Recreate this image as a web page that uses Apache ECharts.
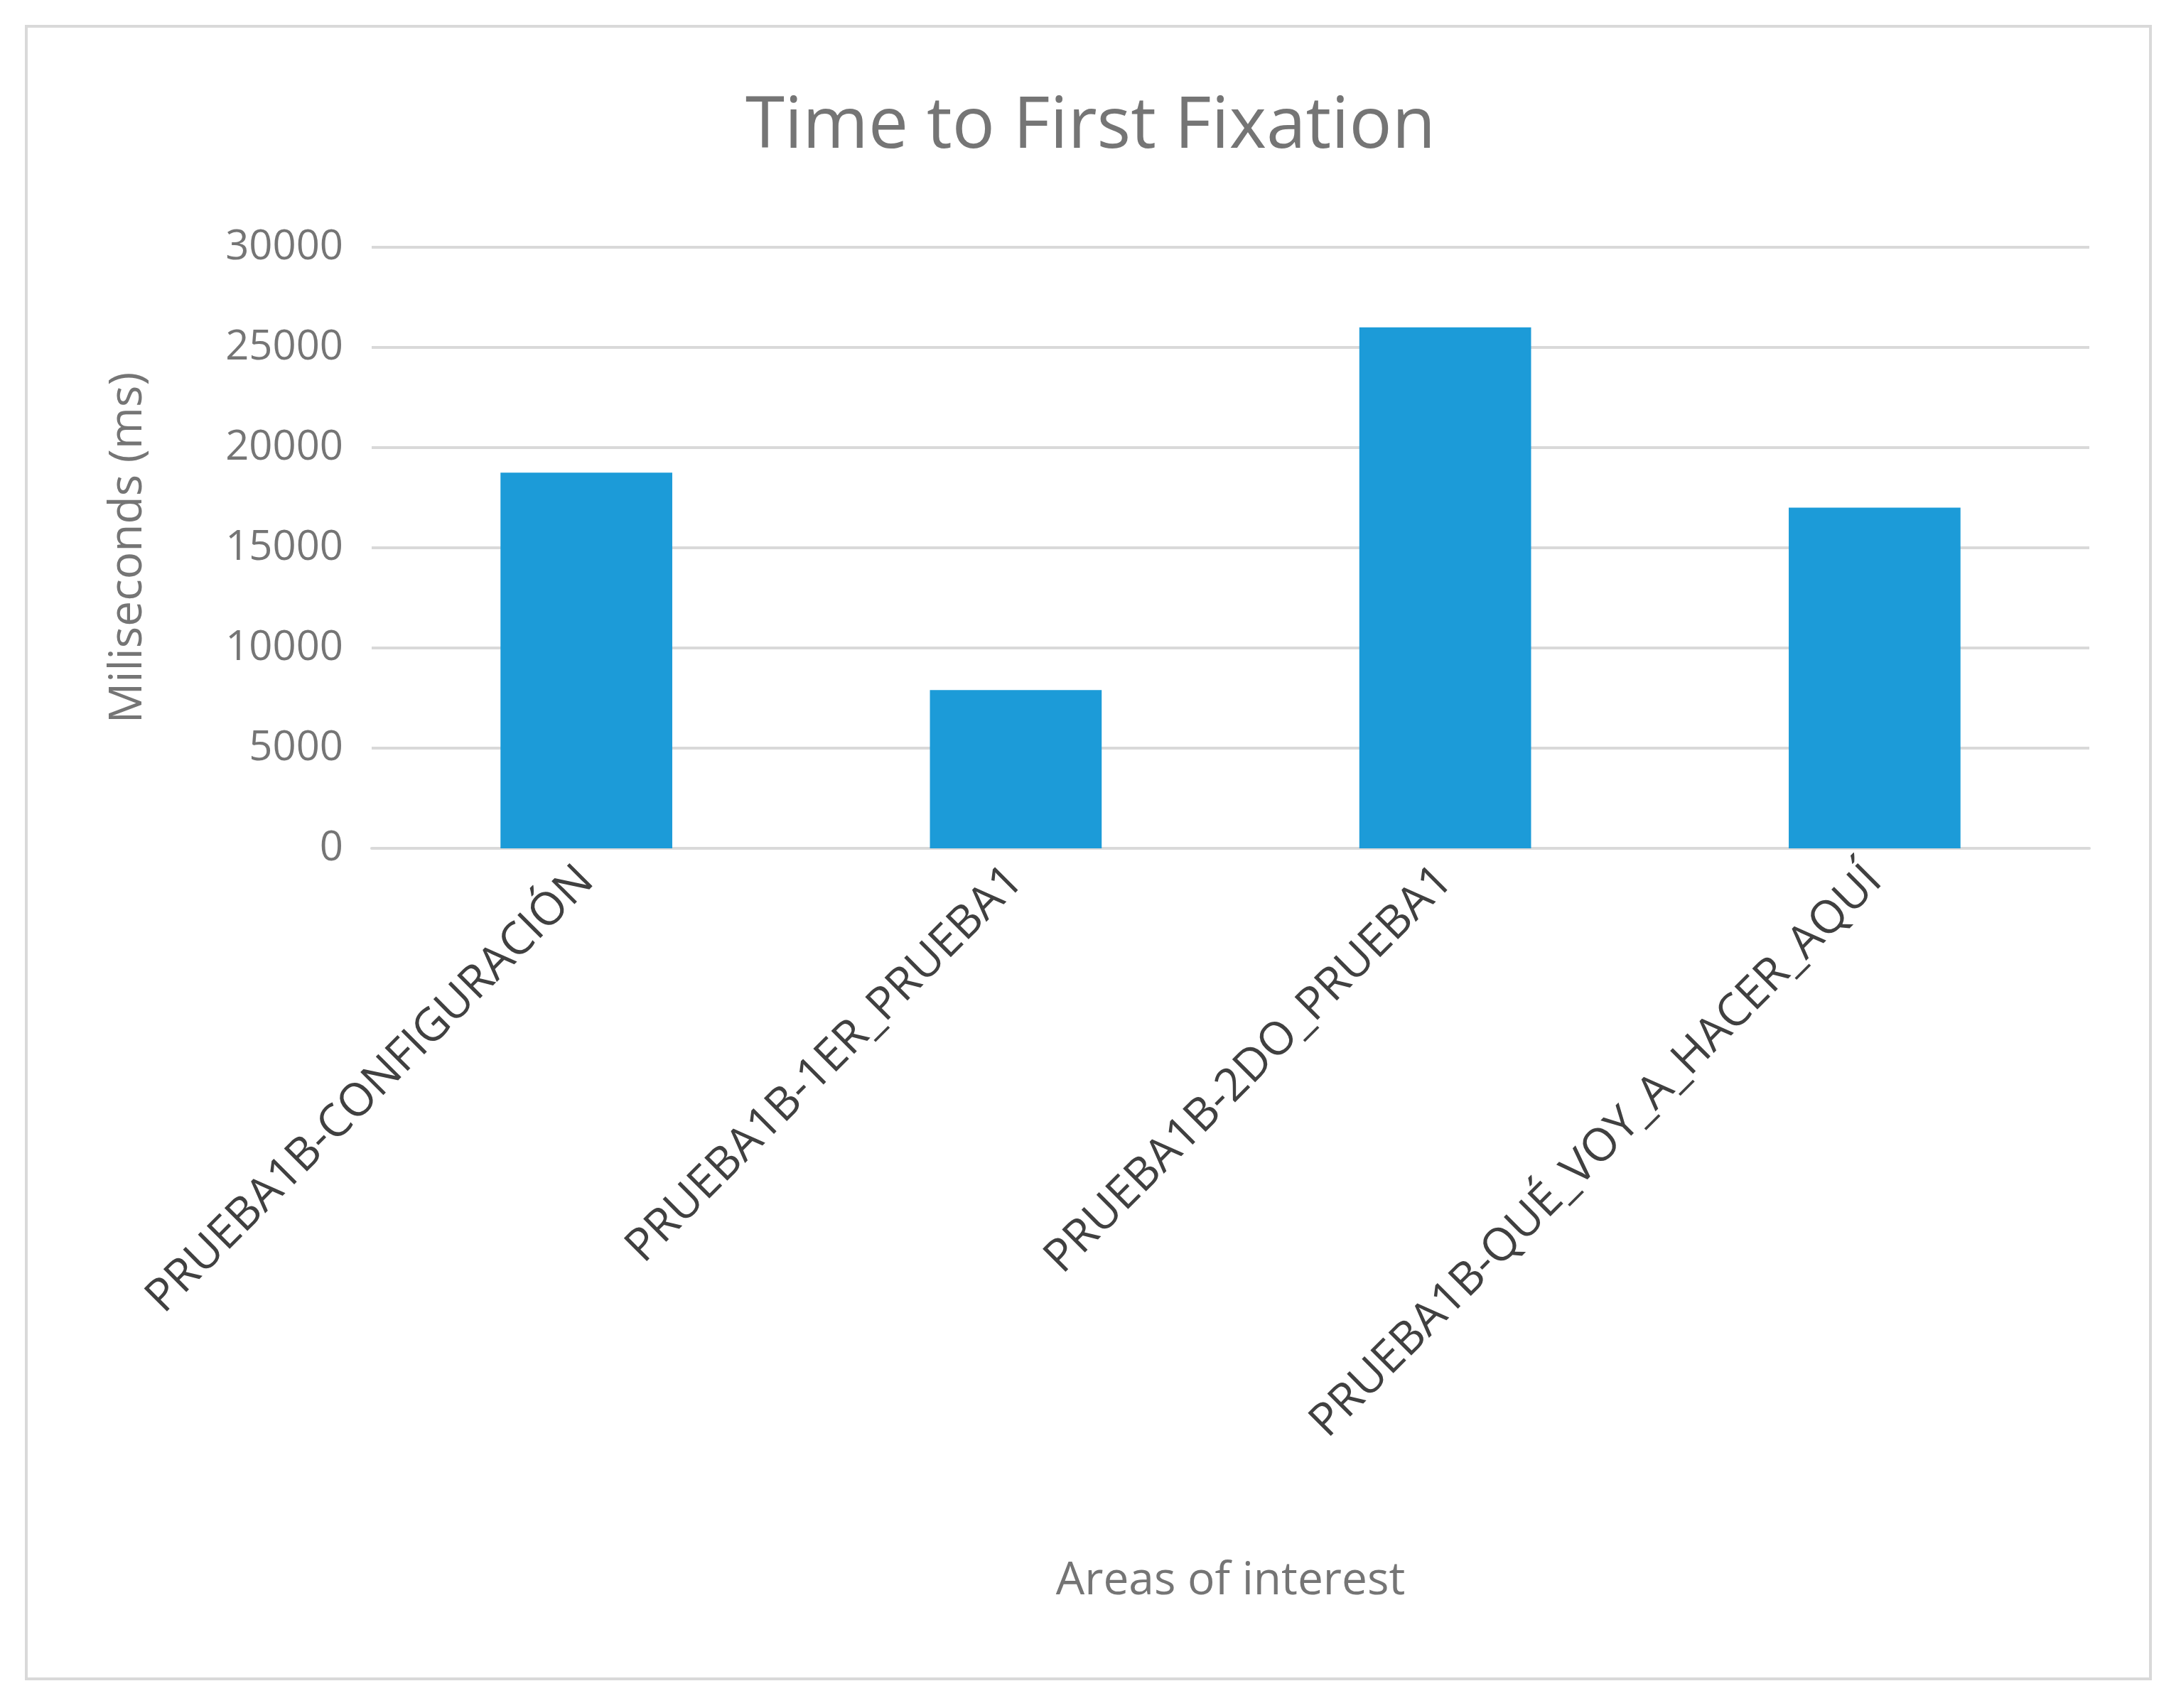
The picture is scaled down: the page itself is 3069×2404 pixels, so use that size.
<!DOCTYPE html>
<html>
<head>
<meta charset="utf-8">
<script src="https://cdn.jsdelivr.net/npm/echarts@6/dist/echarts.min.js"></script>
<style>
  html, body { margin: 0; padding: 0; background: #fff; }
  #wrap { position: absolute; left: 35px; top: 35px; width: 2993px; height: 2330px; border: 4px solid #d9d9d9; box-sizing: border-box; }
  #chart { position: absolute; left: 0; top: 0; width: 3069px; height: 2404px; }
</style>
</head>
<body>
<div id="wrap"></div>
<div id="chart"></div>
<script>
  var categories = ['PRUEBA1B-CONFIGURACIÓN', 'PRUEBA1B-1ER_PRUEBA1', 'PRUEBA1B-2DO_PRUEBA1', 'PRUEBA1B-QUÉ_VOY_A_HACER_AQUÍ'];
  var values = [18750, 7900, 26000, 17000];

  var chart = echarts.init(document.getElementById('chart'));
  chart.setOption({
    animation: false,
    textStyle: { fontFamily: 'Open Sans' },
    title: {
      text: 'Time to First Fixation',
      left: 'center',
      top: 125,
      textStyle: { fontSize: 100, fontWeight: 'normal', color: '#757575', fontFamily: 'Open Sans' }
    },
    grid: { left: 523, right: 129, top: 348, bottom: 1210 },
    xAxis: {
      type: 'category',
      data: categories,
      name: 'Areas of interest',
      nameLocation: 'middle',
      nameGap: 1000,
      nameTextStyle: { fontSize: 64, color: '#757575' },
      axisLine: { lineStyle: { color: '#d9d9d9', width: 4 } },
      axisTick: { show: false },
      axisLabel: { rotate: 45, fontSize: 64, color: '#404040', margin: 36, interval: 0 }
    },
    yAxis: {
      type: 'value',
      min: 0,
      max: 30000,
      interval: 5000,
      name: 'Miliseconds (ms)',
      nameLocation: 'middle',
      nameGap: 310,
      nameTextStyle: { fontSize: 64, color: '#757575' },
      axisLine: { show: false },
      axisTick: { show: false },
      axisLabel: { fontSize: 58, color: '#757575', margin: 40, formatter: function (v) { return String(v); } },
      splitLine: { lineStyle: { color: '#d9d9d9', width: 4 } }
    },
    series: [{
      type: 'bar',
      data: values,
      barWidth: '40%',
      itemStyle: { color: '#1c9bd8' }
    }]
  });
</script>
</body>
</html>
